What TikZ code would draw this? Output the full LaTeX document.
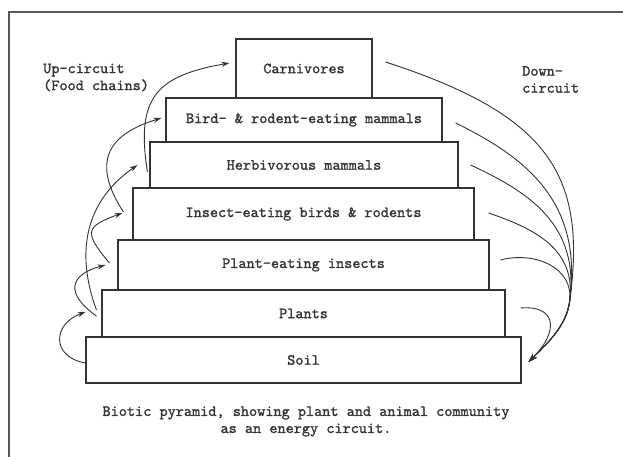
\documentclass[tikz,border=0pt]{standalone}
\usepackage{fontspec}
\newfontfamily\typew{lmmono10-regular.otf}[FakeBold=1.3]
\usetikzlibrary{arrows.meta,calc}
\definecolor{ink}{gray}{0.2}
\definecolor{framec}{gray}{0.35}
\begin{document}
\begin{tikzpicture}[x=1pt,y=1pt,
  txt/.style={text=ink, font=\typew\fontsize{15.5}{17}\selectfont},
  lvl/.style={draw=ink, line width=1.1pt, inner sep=0pt, txt},
  upar/.style={draw=ink, line width=0.9pt, -{Stealth[length=8pt,width=5pt]}},
  dnar/.style={draw=ink, line width=0.9pt, -{Stealth[length=9pt,width=5.5pt]}},
  framel/.style={draw=framec, line width=1.2pt}]
\useasboundingbox (0,0) rectangle (623,457);
\draw[framel] (9,-10) -- (9,445) -- (640,445);

\node[lvl, minimum width=435pt, minimum height=46pt] (soil)   at (303.5,97)   {Soil};
\node[lvl, minimum width=403pt, minimum height=47pt] (plants) at (303.5,143.5) {Plants};
\node[lvl, minimum width=371pt, minimum height=50pt] (pe)     at (303.5,192)  {Plant-eating insects};
\node[lvl, minimum width=341pt, minimum height=52pt] (insect) at (303.5,243)  {Insect-eating birds \& rodents};
\node[lvl, minimum width=308pt, minimum height=46pt] (herb)   at (304,292)    {Herbivorous mammals};
\node[lvl, minimum width=276pt, minimum height=44pt] (bird)   at (304,337)    {Bird- \& rodent-eating mammals};
\node[lvl, minimum width=136pt, minimum height=59pt] (carn)   at (304,388.5)  {Carnivores};

\node[txt, anchor=west, align=left, inner sep=0pt] (up) at (43,379.5) {Up-circuit\\(Food chains)};
\node[txt, anchor=west, align=left, inner sep=0pt] (down) at (522,377.5) {Down-\\circuit};
\node[txt, align=center, inner sep=0pt] (cap) at (306,35.5) {Biotic pyramid, showing plant and animal community\\as an energy circuit.};

% up-circuit (food chains)
\draw[upar] ([shift={(0,-3)}]soil.west) .. controls +(170:35) and +(200:35) .. ([shift={(-16,1.5)}]plants.west);
\draw[upar] ([shift={(-5,-2.5)}]plants.west) .. controls +(145:38) and +(195:38) .. ([shift={(-12,0)}]pe.west);
\draw[upar] ([shift={(-8,2)}]pe.west) .. controls +(130:40) and +(200:40) .. ([shift={(-10,1)}]insect.west);
\draw[upar] ([shift={(-5,3.5)}]plants.west) .. controls +(110:63) and +(215:63) .. ([shift={(-12,0)}]herb.west);
\draw[upar] ([shift={(-9,2)}]insect.west) .. controls +(123:58) and +(197:58) .. ([shift={(-4,2)}]bird.west);
\draw[upar] ([shift={(-2,-7)}]herb.west) .. controls +(99:75) and +(190:75) .. ([shift={(-6,5.5)}]carn.west);

% down-circuit
\coordinate (sink) at ([shift={(7,-2)}]soil.east);
\coordinate (merge) at ([shift={(48,58)}]soil.east);
\draw[dnar] ([shift={(13,6.5)}]carn.east) .. controls +(-18:170) and +(82:130) .. (merge)
  .. controls +(262:25) and +(45:25) .. (sink);
\draw[dnar] ([shift={(13,-3)}]bird.east) .. controls +(-26:80) and +(82:100) .. (merge)
  .. controls +(262:25) and +(45:25) .. (sink);
\draw[dnar] ([shift={(12,0)}]herb.east) .. controls +(-25:60) and +(82:80) .. (merge)
  .. controls +(262:25) and +(45:25) .. (sink);
\draw[dnar] ([shift={(14,1)}]insect.east) .. controls +(-19:45) and +(82:55) .. (merge)
  .. controls +(262:25) and +(45:25) .. (sink);
\draw[dnar] ([shift={(11,5)}]pe.east) .. controls +(15:35) and +(82:35) .. (merge)
  .. controls +(262:25) and +(45:25) .. (sink);
\draw[dnar] ([shift={(15,5.5)}]plants.east) .. controls +(5:35) and +(45:45) .. (sink);
\end{tikzpicture}
\end{document}
